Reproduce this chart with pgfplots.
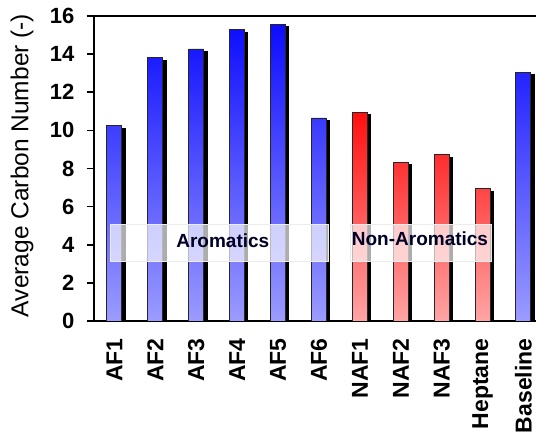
\documentclass[border=0pt]{standalone}
\usepackage{pgfplots}
\pgfplotsset{compat=1.18}
\usepackage{fontspec}
\setmainfont{Liberation Sans}
\definecolor{btop}{RGB}{12,12,255}
\definecolor{bbot}{RGB}{155,155,255}
\definecolor{rtop}{RGB}{255,14,14}
\definecolor{rbot}{RGB}{255,165,165}
\begin{document}
\begin{tikzpicture}
\path[use as bounding box] (0pt,0pt) rectangle (536pt,436pt);
\begin{axis}[
  at={(94pt,115pt)}, anchor=south west,
  scale only axis, width=442pt, height=305pt,
  xmin=-0.5, xmax=10.307, ymin=0, ymax=16,
  axis lines*=left,
  ytick={0,2,...,16},
  xtick={0,...,10},
  xticklabels={AF1,AF2,AF3,AF4,AF5,AF6,NAF1,NAF2,NAF3,Heptane,Baseline},
  major x tick style={draw=none},
  extra x ticks={-0.5,0.5,...,9.5},
  extra x tick labels={},
  extra x tick style={major tick length=8pt, major tick style={draw=black, line width=1.6pt}},
  tick align=outside,
  major tick length=7pt,
  y tick style={line width=1.6pt, black},
  axis line style={line width=2.6pt, -},
  /pgf/number format/assume math mode=true,
  xticklabel shift=7pt,
  yticklabel shift=9pt,
  xticklabel style={rotate=90, anchor=east, font=\fontsize{23}{23}\selectfont\bfseries},
  yticklabel style={font=\fontsize{22}{22}\selectfont\bfseries},
  ylabel={Average Carbon Number (-)},
  ylabel style={at={(rel axis cs:-0.163,0.51)}, anchor=center, font=\fontsize{24.5}{24.5}\selectfont},
  after end axis/.code={\draw[line width=2.6pt] (rel axis cs:0,1) -- (rel axis cs:1,1);},
]
% shadows
\addplot[ybar, bar width=15pt, bar shift=3.3pt, fill=black, draw=black, line width=0.9pt,
  transform canvas={yshift=-2.5pt}]
  coordinates {(0,10.25) (1,13.8) (2,14.27) (3,15.27) (4,15.58) (5,10.65) (6,10.95) (7,8.33) (8,8.72) (9,6.93) (10,13.05)};
\addplot[ybar, bar width=15pt, bar shift=0pt, draw=black!85, line width=0.9pt,
  top color=btop, bottom color=bbot]
  coordinates {(0,10.25) (1,13.8) (2,14.27) (3,15.27) (4,15.58) (5,10.65) (10,13.05)};
\addplot[ybar, bar width=15pt, bar shift=0pt, draw=black!85, line width=0.9pt,
  top color=rtop, bottom color=rbot]
  coordinates {(6,10.95) (7,8.33) (8,8.72) (9,6.93)};
\draw[draw=white!85!gray, fill=white, fill opacity=0.68, line width=0.8pt]
  (axis cs:-0.11,3.15) rectangle (axis cs:5.22,5.09);
\draw[draw=white!85!gray, fill=white, fill opacity=0.68, line width=0.8pt]
  (axis cs:5.76,3.15) rectangle (axis cs:9.22,5.09);
\node[font=\fontsize{19}{19}\selectfont\bfseries, text=black!85!blue] at (axis cs:2.65,4.2) {Aromatics};
\node[font=\fontsize{19}{19}\selectfont\bfseries, text=black!85!blue] at (axis cs:7.47,4.3) {Non-Aromatics};
\end{axis}
\end{tikzpicture}
\end{document}
